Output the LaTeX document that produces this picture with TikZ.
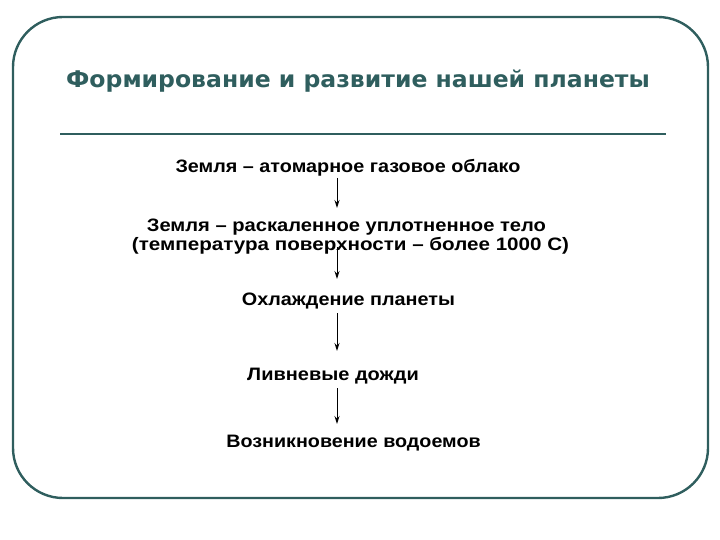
\documentclass[tikz,border=0pt]{standalone}
\usepackage{fontspec}
\setmainfont{Liberation Sans}
\newfontfamily\titlefont{DejaVu Sans}
\usetikzlibrary{arrows.meta}
\definecolor{teal1}{RGB}{47,94,94}
\newcommand{\wide}[2]{\scalebox{#1}[1]{#2}}
\tikzset{
  frame/.style={draw=teal1, line width=2.4pt, rounded corners=50pt},
  rulestyle/.style={draw=teal1, line width=2.4pt},
  titletext/.style={text=teal1, font=\titlefont\fontsize{23}{28}\selectfont\bfseries, inner sep=0pt, anchor=base},
  bodytext/.style={text=black, font=\fontsize{18}{19.5}\selectfont\bfseries, inner sep=0pt, anchor=base, align=center},
  arr/.style={draw=black, line width=0.9pt, -{Stealth[length=8pt,width=5pt]}}
}
\begin{document}
\begin{tikzpicture}[x=1pt,y=-1pt]
\useasboundingbox (0,0) rectangle (720,540);
\draw[frame] (13,17) rectangle (708,498);
\node[titletext] (title) at (358,88) {\wide{1.023}{Формирование и развитие нашей планеты}};
\coordinate (rl) at (60,134);
\coordinate (rr) at (666,134);
\draw[rulestyle] (rl) -- (rr);
\node[bodytext] (t1) at (348,173) {\wide{1.1}{Земля – атомарное газовое облако}};
\node[bodytext] (t2) at (346.5,232) {\wide{1.12}{Земля – раскаленное уплотненное тело}};
\node[bodytext] (t3) at (350.5,251) {\wide{1.145}{(температура поверхности – более 1000 С)}};
\node[bodytext] (t4) at (348.5,305) {\wide{1.1}{Охлаждение планеты}};
\node[bodytext] (t5) at (333,380) {\wide{1.11}{Ливневые дожди}};
\node[bodytext] (t6) at (353.5,447) {\wide{1.095}{Возникновение водоемов}};
\coordinate (a1s) at (337,178);
\coordinate (a1e) at (337,208);
\coordinate (a2s) at (337,247);
\coordinate (a2e) at (337,279);
\coordinate (a3s) at (337,313);
\coordinate (a3e) at (337,351);
\coordinate (a4s) at (337,388);
\coordinate (a4e) at (337,424);
\draw[arr] (a1s) -- (a1e);
\draw[arr] (a2s) -- (a2e);
\draw[arr] (a3s) -- (a3e);
\draw[arr] (a4s) -- (a4e);
\end{tikzpicture}
\end{document}
